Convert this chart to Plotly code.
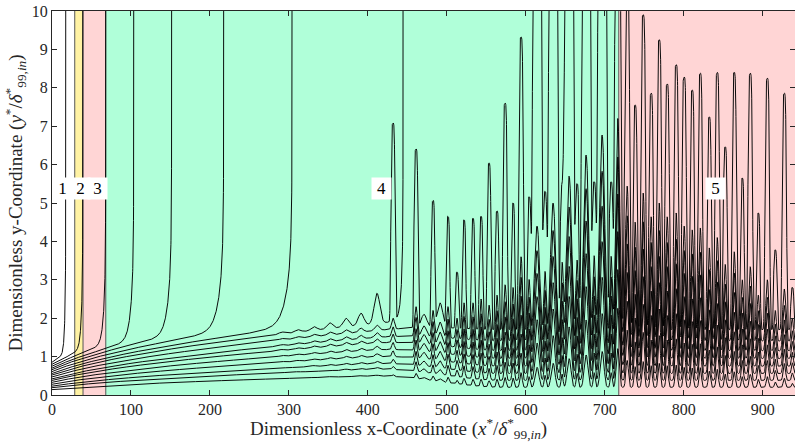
import numpy as np
import plotly.graph_objects as go

# ---------------- data ----------------
# streamwise regions: edges, fill colours and labels
region_edges = [0.0, 28.8, 39.3, 68.1, 717.8, 941.0]
region_colors = ["#ffffff", "#fff2a3", "#ffd5d5", "#b0ffd9", "#ffd5d5"]
region_labels = ["1", "2", "3", "4", "5"]
label_x = [13.9, 36.0, 57.0, 417.2, 840.0]
label_y = 5.39

# inlet wall-normal height of each traced line (bottom to top)
inlet_height = [0.14, 0.19, 0.23, 0.28, 0.33, 0.38, 0.42, 0.47,
                0.52, 0.56, 0.61, 0.66, 0.70, 0.75, 0.80, 0.85]
# trough height of the lower lines far downstream
late_height = [0.20, 0.38, 0.56, 0.75, 0.95, 1.15, 1.40, 1.70]
# streamwise station where the upper lines turn to the free stream
lift_x = [444.6, 304.0, 217.4, 151.5, 103.5, 68.0, 39.0, 17.4]
lift_width = [6.0, 20.0, 17.0, 13.0, 10.0, 7.0, 5.0, 3.5]

# wave crests: position, crest height of the outer line, crest height of next line
crest_x = [291.1, 311.4, 331.6, 351.9, 372.2, 391.3, 411.6, 431.9,
           461.0, 471.1, 482.5, 491.4, 501.5, 512.9, 521.8, 533.2,
           543.4, 553.5, 563.6, 573.8, 583.9, 594.0, 604.2, 614.3,
           624.4, 634.6, 646.0, 654.9, 665.0, 676.4, 686.6, 696.7,
           708.1, 716.5, 728.4, 738.5, 748.7, 758.8, 769.0, 779.1,
           790.5, 800.6, 810.8, 821.0, 832.4, 842.5, 852.6, 864.0,
           874.2, 884.3, 894.5, 905.9, 916.0, 927.4, 937.6]
crest_top = [1.64, 1.70, 1.78, 1.88, 2.00, 2.13, 2.65, 7.08,
             6.40, 2.10, 5.03, 2.40, 4.64, 3.20, 4.56, 4.60,
             4.65, 6.04, 4.79, 7.60, 5.00, 9.32, 5.16, 22.0,
             5.30, 22.0, 5.47, 22.0, 5.50, 22.0, 5.55, 22.0,
             5.55, 15.0, 11.0, 7.55, 9.90, 7.86, 9.25, 8.10,
             8.60, 8.28, 7.94, 8.38, 7.24, 8.40, 6.46, 8.40,
             5.65, 8.38, 4.74, 8.25, 3.78, 7.86, 2.80]
crest_inner = [1.47, 1.52, 1.58, 1.64, 1.70, 1.74, 1.82, 2.00,
               2.30, 1.80, 2.20, 1.90, 2.30, 2.00, 2.40, 2.40,
               2.50, 2.34, 2.60, 2.87, 2.80, 3.60, 3.00, 4.40,
               3.20, 5.00, 3.40, 5.70, 3.50, 6.25, 3.60, 6.77,
               3.60, 7.20, 5.44, 4.50, 5.26, 4.64, 5.00, 4.64,
               4.74, 4.40, 4.30, 4.35, 3.83, 4.10, 3.40, 3.73,
               3.00, 3.34, 2.60, 3.00, 2.20, 2.76, 2.00]

n_wall = len(late_height)
n_lines = len(inlet_height)

# ---------------- line construction ----------------
x = np.arange(0.0, 941.05, 0.1)


def thickness(xx):
    return np.sqrt(1.0 + xx / 35.0)


def blend(xx):
    t = np.clip((xx - 400.0) / 170.0, 0.0, 1.0)
    return t * t * (3.0 - 2.0 * t)


def lift(j, xx):
    if j < n_wall:
        return np.zeros_like(xx)
    k = j - n_wall
    d = np.maximum(lift_x[k] - xx, 1e-4)
    return 0.3 * np.log1p((lift_width[k] / d) ** 3)


def base(j, xx):
    xx = np.asarray(xx, dtype=float)
    y = inlet_height[j] * thickness(xx)
    if j < n_wall:
        t = blend(xx)
        y = y * (1 - t) + late_height[j] * t
    return y + lift(j, xx)


Y = [base(j, x) for j in range(n_lines)]

for xp, ht, hi in zip(crest_x, crest_top, crest_inner):
    top = n_wall if xp < lift_x[0] else n_wall - 1
    k_top = max(ht - float(base(top, xp)), 0.05)
    k_in = min(max(hi - float(base(top - 1, xp)), 0.03), 0.9 * k_top)
    if k_top < 0.8:
        q_top, s_top = 2.0, 5.0
    else:
        q_top, s_top = 4.0, float(np.clip(2.2 + 0.17 * k_top, 2.4, 6.0))
    for j in range(top + 1):
        if j == top:
            k, s, q = k_top, s_top, q_top
        else:
            k = k_in * ((j + 1) / top) ** 0.9
            s = s_top * (0.55 + 0.25 * (j + 1) / top)
            q = 2.2 if q_top > 2.0 else 2.0
        Y[j] = Y[j] + k * np.exp(-np.abs((x - xp) / s) ** q)

fig = go.Figure()

for j in range(n_lines):
    if j < n_wall:
        xs, ys = x, Y[j]
    else:
        xe = lift_x[j - n_wall]
        m = x < xe
        xs = np.append(x[m], xe)
        ys = np.append(np.minimum(Y[j][m], 10.5), 10.5)
    fig.add_trace(go.Scatter(x=xs, y=ys, mode="lines",
                             line=dict(color="#000000", width=0.95),
                             hoverinfo="skip", showlegend=False))

# region fills and their edges
shapes = []
for i, c in enumerate(region_colors):
    shapes.append(dict(type="rect", xref="x", yref="y", layer="below",
                       x0=region_edges[i], x1=region_edges[i + 1], y0=0, y1=10,
                       fillcolor=c, line=dict(width=0)))
for e in region_edges[1:-1]:
    shapes.append(dict(type="line", xref="x", yref="y", layer="below",
                       x0=e, x1=e, y0=0, y1=10,
                       line=dict(color="#555555", width=1)))

annotations = []
for lx, lt in zip(label_x, region_labels):
    annotations.append(dict(x=lx, y=label_y, xref="x", yref="y", text=lt,
                            showarrow=False, bgcolor="#ffffff", width=17, height=19,
                            borderpad=1,
                            font=dict(family="Liberation Serif", size=17, color="#000000")))

# x-axis title placed as free text below the tick labels
annotations.append(dict(
    x=0.466, y=-0.088, xref="paper", yref="paper", xanchor="center", yanchor="middle",
    showarrow=False,
    text="Dimensionless x-Coordinate (<i>x</i><sup>*</sup>/<i>δ</i><sup>*</sup><sub>99,<i>in</i></sub>)",
    font=dict(family="Liberation Serif", size=19, color="#262626")))

fig.update_layout(
    width=795, height=444,
    margin=dict(l=52, r=0, t=11, b=49),
    paper_bgcolor="#ffffff", plot_bgcolor="#ffffff",
    showlegend=False,
    shapes=shapes, annotations=annotations,
    font=dict(family="Liberation Serif", size=16, color="#262626"),
)
fig.update_xaxes(
    range=[0, 941], tickvals=list(range(0, 1000, 100)),
    ticks="inside", ticklen=5, tickcolor="#262626",
    showline=True, linecolor="#262626", linewidth=1, mirror="ticks",
    showgrid=False, zeroline=False,
)
fig.update_yaxes(
    range=[0, 10], tickvals=list(range(0, 11)),
    ticks="inside", ticklen=5, tickcolor="#262626",
    showline=True, linecolor="#262626", linewidth=1, mirror="ticks",
    showgrid=False, zeroline=False,
    title=dict(text="Dimensionless y-Coordinate (<i>y</i><sup>*</sup>/<i>δ</i><sup>*</sup><sub>99,<i>in</i></sub>)",
               font=dict(size=19), standoff=4),
)

fig.write_html("out.html")
